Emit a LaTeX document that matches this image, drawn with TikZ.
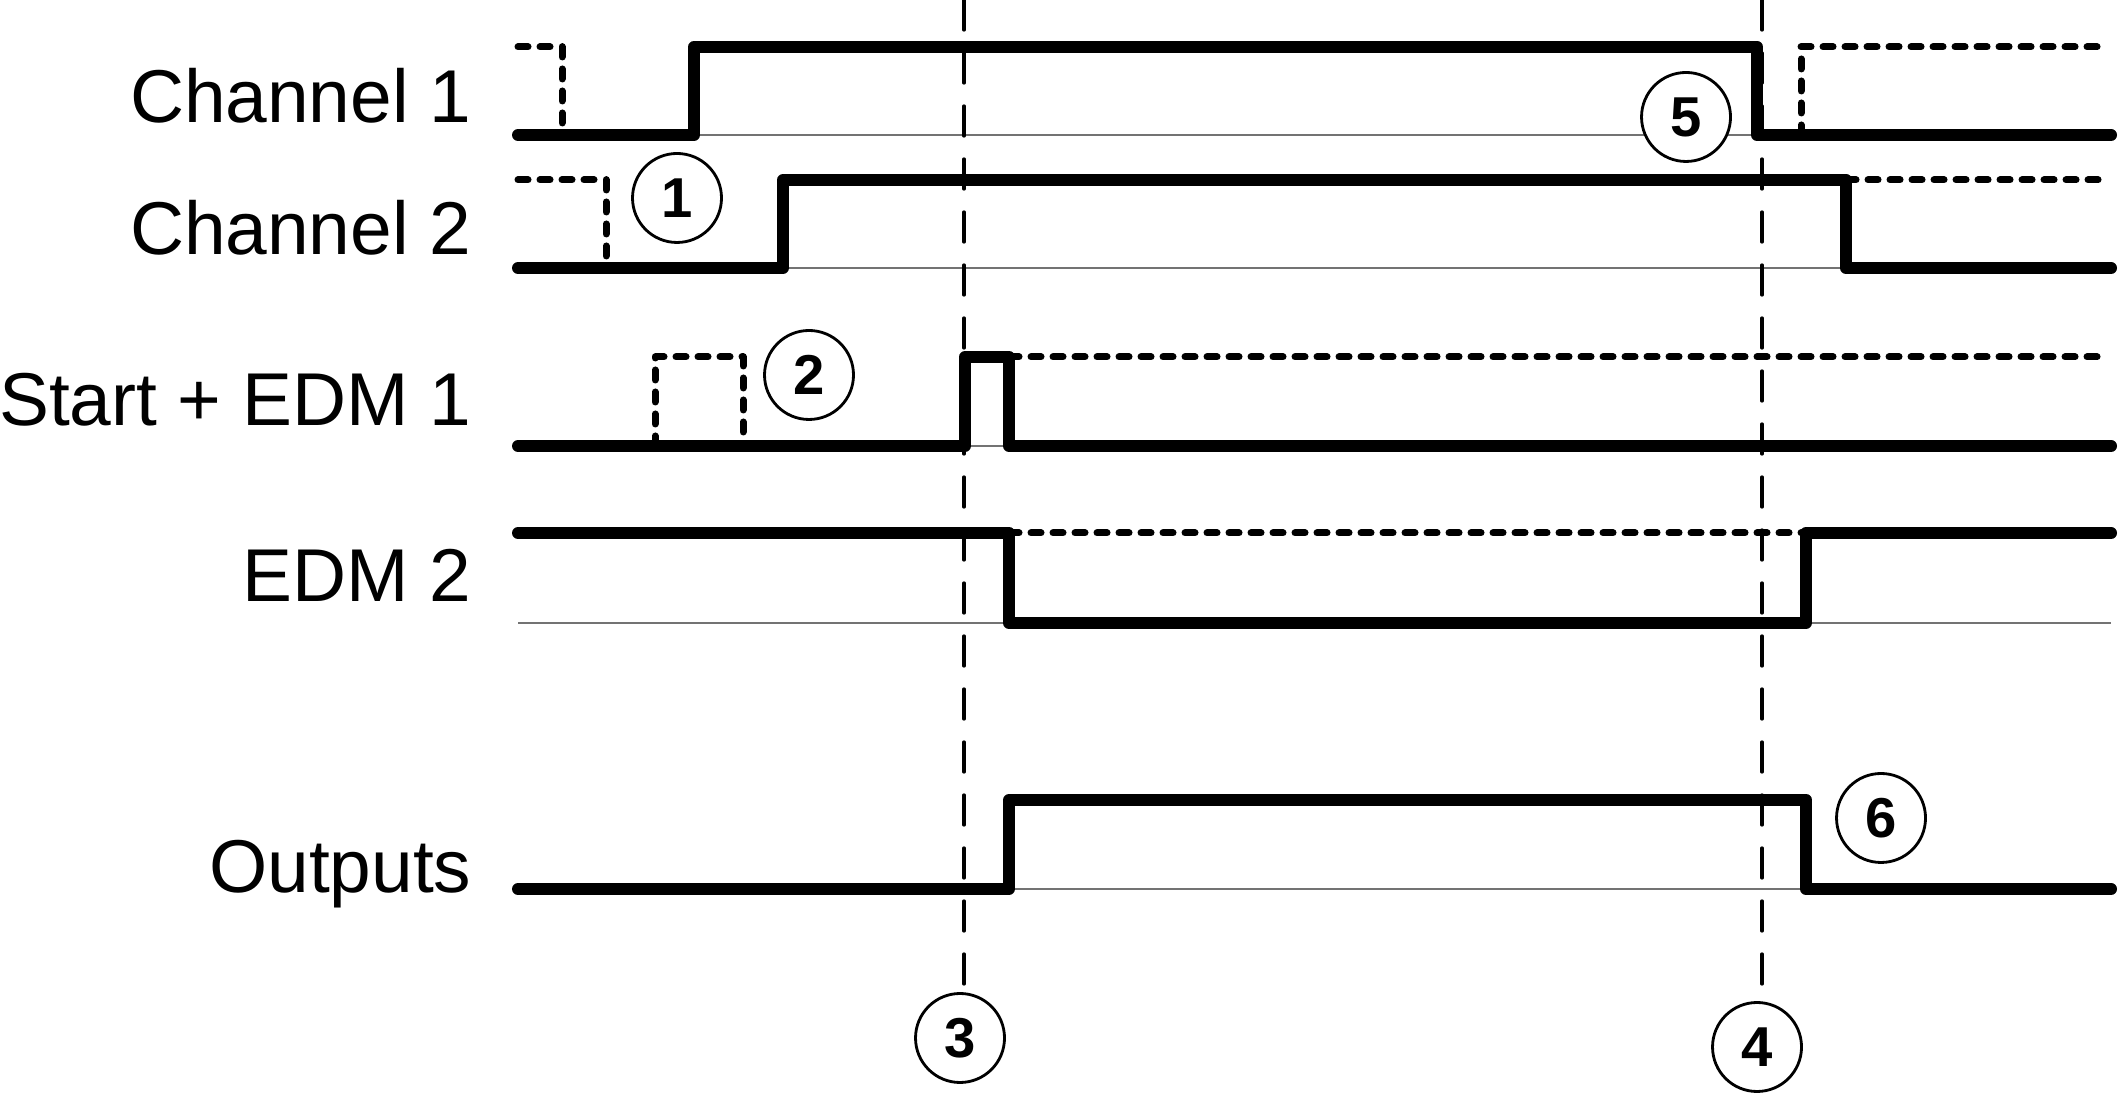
\documentclass[tikz,border=0pt]{standalone}
\usepackage{fontspec}
\setmainfont{Liberation Sans}
\begin{document}
\begin{tikzpicture}[
    sig/.style={line width=0.12cm, line cap=round, line join=round},
    alt/.style={line width=0.07cm, line cap=round, line join=round, dash pattern=on 0.10cm off 0.12cm},
    base/.style={line width=0.5pt, black!55},
    marker/.style={line width=0.033cm, line cap=round, dash pattern=on 0.30cm off 0.23cm},
    num/.style={circle, draw, fill=white, line width=0.8pt, minimum size=0.89cm, inner sep=0pt, font=\fontsize{16}{16}\selectfont\bfseries},
    lbl/.style={anchor=base east, inner sep=0pt, font=\fontsize{21.3}{24}\selectfont}]
  \useasboundingbox (0,0) rectangle (21.23,10.95);
  \draw
    (4.72,9.72) node[lbl] (ch1){Channel 1}
    (4.72,8.40) node[lbl] (ch2){Channel 2}
    (4.72,6.69) node[lbl] (sedm){Start + EDM 1}
    (4.72,4.93) node[lbl] (edm){EDM 2}
    (4.72,2.02) node[lbl] (out){Outputs};
  \begin{scope}
    % reference levels
    \draw[base] (6.94,9.60) -- (17.57,9.60);
    \draw[base] (7.83,8.27) -- (18.46,8.27);
    \draw[base] (9.65,6.49) -- (10.09,6.49);
    \draw[base] (5.18,4.72) -- (21.11,4.72);
    \draw[base] (10.09,2.06) -- (18.06,2.06);
    % alternative states
    \draw[alt] (5.18,10.48) -- (5.62,10.48) -- (5.62,9.60);
    \draw[alt] (18.01,9.60) -- (18.01,10.48) -- (21.05,10.48);
    \draw[alt] (5.18,9.15) -- (6.06,9.15) -- (6.06,8.27);
    \draw[alt] (18.46,9.15) -- (21.05,9.15);
    \draw[alt] (6.55,6.49) -- (6.55,7.38) -- (7.43,7.38) -- (7.43,6.49);
    \draw[alt] (10.09,7.38) -- (21.05,7.38);
    \draw[alt] (10.09,5.62) -- (18.06,5.62);
    % signals
    \draw[sig] (5.18,9.60) -- (6.94,9.60) -- (6.94,10.48) -- (17.57,10.48) -- (17.57,9.60) -- (21.11,9.60);
    \draw[sig] (5.18,8.27) -- (7.83,8.27) -- (7.83,9.15) -- (18.46,9.15) -- (18.46,8.27) -- (21.11,8.27);
    \draw[sig] (5.18,6.49) -- (9.65,6.49) -- (9.65,7.38) -- (10.09,7.38) -- (10.09,6.49) -- (21.11,6.49);
    \draw[sig] (5.18,5.62) -- (10.09,5.62) -- (10.09,4.72) -- (18.06,4.72) -- (18.06,5.62) -- (21.11,5.62);
    \draw[sig] (5.18,2.06) -- (10.09,2.06) -- (10.09,2.95) -- (18.06,2.95) -- (18.06,2.06) -- (21.11,2.06);
  \end{scope}
  \draw
    (6.77,8.97) node[num] (1){1}
    (8.09,7.20) node[num] (2){2}
    (9.60,0.57) node[num] (3){3}
    (17.57,0.48) node[num] (4){4}
    (16.86,9.78) node[num] (5){5}
    (18.81,2.77) node[num] (6){6};
  \coordinate (t3) at (9.64,10.95);
  \coordinate (t4) at (17.62,10.95);
  \begin{scope}[marker]
    \draw (t3) to (t3 |- 3.north);
    \draw (t4) to (t4 |- 4.north);
  \end{scope}
\end{tikzpicture}
\end{document}
